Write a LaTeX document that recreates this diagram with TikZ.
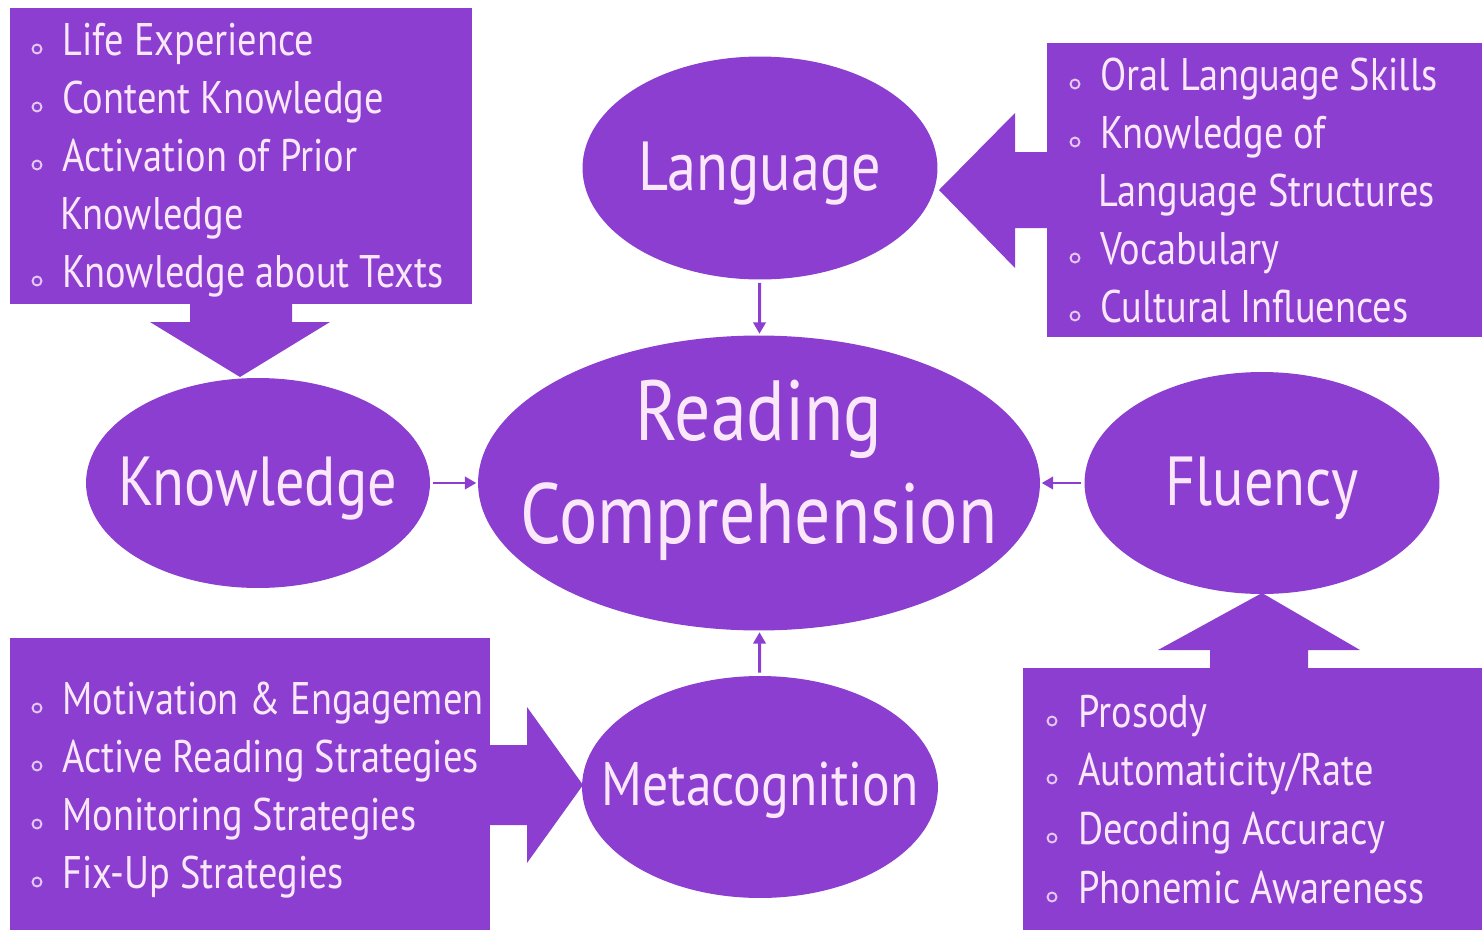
\documentclass[tikz,border=0pt]{standalone}
\usepackage{fontspec}
\setmainfont[FakeStretch=0.84]{PT Sans}
\usetikzlibrary{shapes.geometric,arrows.meta,fit}
\definecolor{cpurple}{RGB}{139,62,208}
\definecolor{cpink}{RGB}{250,232,250}
\definecolor{cdot}{RGB}{228,200,242}

\tikzset{
  box/.style={fill=cpurple,inner sep=0pt,outer sep=0pt},
  bubble/.style={ellipse,fill=cpurple,inner sep=0pt,outer sep=0pt},
  bubtext/.style={text=cpink,align=center,inner sep=0pt,yshift=-3pt,font=\fontsize{39.5}{50}\selectfont},
  item/.style={anchor=base west,inner sep=0pt,text=cpink,font=\fontsize{26}{30}\selectfont},
  dot/.style={draw=cdot,line width=1.1pt},
  link/.style={draw=cpurple,line width=1.7pt,shorten >=1pt,shorten <=2pt,-{Triangle[length=6.5pt,width=7pt]}},
  block/.style={fill=cpurple}
}

\begin{document}
\begin{tikzpicture}[x=0.02cm,y=-0.02cm]
\useasboundingbox (0,0) rectangle (1482,930);

% the four boxes
\node[box,fit={(10,8) (472,304)}] (kbox) {};
\node[box,fit={(1047,43) (1482,337)}] (lbox) {};
\node[box,fit={(10,638) (490,930)}] (mbox) {};
\node[box,fit={(1023,668) (1482,930)}] (fbox) {};

% block arrows
\fill[block] (190,300) -- (190,322) -- (150,322) -- (240,377) -- (330,322) -- (292,322) -- (292,300) -- cycle;
\fill[block] (1050,152) -- (1015,152) -- (1015,113) -- (939,190) -- (1015,268) -- (1015,228) -- (1050,228) -- cycle;
\fill[block] (486,745) -- (527,745) -- (527,707) -- (583,785) -- (527,863) -- (527,825) -- (486,825) -- cycle;
\fill[block] (1210,672) -- (1210,650) -- (1158,650) -- (1262,593) -- (1360,650) -- (1308,650) -- (1308,672) -- cycle;

% the five bubbles
\node[bubble,minimum width=11.24cm,minimum height=5.9cm,
  label={[bubtext,yshift=10pt,font=\fontsize{48.6}{58.6}\selectfont]center:Reading\\Comprehension}] (read) at (759,483) {};
\node[bubble,minimum width=7.1cm,minimum height=4.46cm,label={[bubtext]center:Language}] (lang) at (760,168) {};
\node[bubble,minimum width=6.88cm,minimum height=4.2cm,label={[bubtext]center:Knowledge}] (know) at (258,483) {};
\node[bubble,minimum width=7.1cm,minimum height=4.44cm,label={[bubtext]center:Fluency}] (flu) at (1262,483) {};
\node[bubble,minimum width=7.12cm,minimum height=4.44cm,
  label={[bubtext,yshift=1pt,font=\fontsize{35}{42}\selectfont]center:Metacognition}] (meta) at (760,787) {};

\foreach \a in {lang,know,flu,meta}
  \draw[link] (\a) -- (read);

% bullet lists
\foreach \txt/\x/\y/\b [count=\i] in {
  Life Experience/62/55/1,
  Content Knowledge/62/113/1,
  Activation of Prior/62/171/1,
  Knowledge/60/229/0,
  Knowledge about Texts/62/287/1}{
  \node[item] (k\i) at (\x,\y) {\txt};
  \ifnum\b=1 \draw[dot] (37,\y-6) circle[radius=0.09cm]; \fi
}
\foreach \txt/\x/\y/\b [count=\i] in {
  Oral Language Skills/1100/90/1,
  Knowledge of/1100/148/1,
  Language Structures/1098/206/0,
  Vocabulary/1100/264/1,
  Cultural Influences/1100/322/1}{
  \node[item] (l\i) at (\x,\y) {\txt};
  \ifnum\b=1 \draw[dot] (1075,\y-6) circle[radius=0.09cm]; \fi
}
\foreach \txt/\y [count=\i] in {
  Motivation \& Engagemen/714,
  Active Reading Strategies/772,
  Monitoring Strategies/830,
  Fix-Up Strategies/888}{
  \node[item] (m\i) at (62,\y) {\txt};
  \draw[dot] (37,\y-6) circle[radius=0.09cm];
}
\foreach \txt/\y [count=\i] in {
  Prosody/727,
  {Automaticity/Rate}/785,
  Decoding Accuracy/844,
  Phonemic Awareness/903}{
  \node[item] (f\i) at (1078,\y) {\txt};
  \draw[dot] (1052,\y-6) circle[radius=0.09cm];
}

\end{tikzpicture}
\end{document}
